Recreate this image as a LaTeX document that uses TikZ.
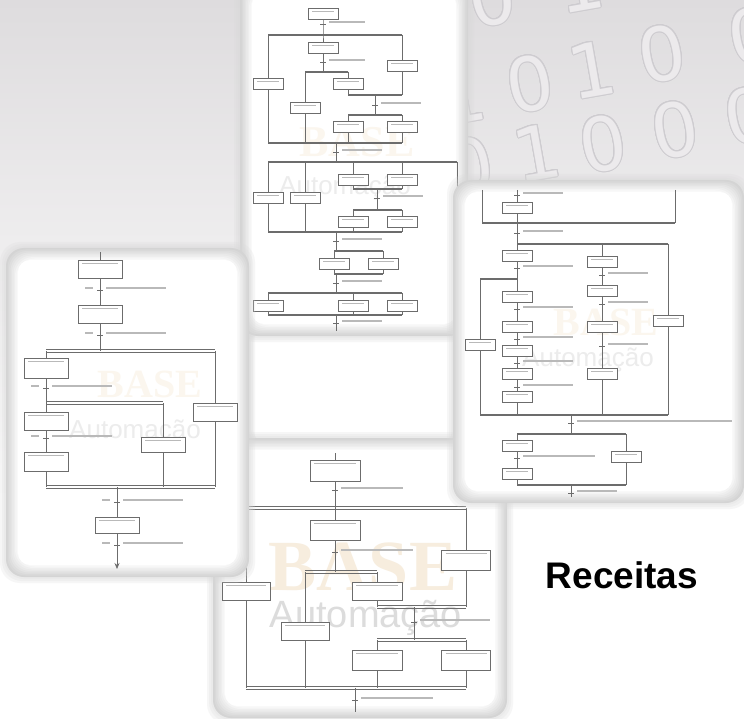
\documentclass[tikz,border=0pt]{standalone}
\usepackage{fontspec}
\usepackage{contour}
\usetikzlibrary{calc,arrows.meta}
\setmainfont{Liberation Sans}
\newfontfamily\headfont{Liberation Sans}
\newfontfamily\digitfont{DejaVu Sans}
\newfontfamily\markfont{Liberation Serif}
\contourlength{1pt}

\definecolor{bgtop}{RGB}{222,220,222}
\definecolor{digitline}{RGB}{206,204,208}
\definecolor{digitfill}{RGB}{236,234,236}
\definecolor{sfcline}{RGB}{108,108,108}
\definecolor{sfctext}{RGB}{185,185,185}
\definecolor{basecol}{RGB}{247,237,222}
\definecolor{autocol}{RGB}{220,220,220}

\tikzset{
  stp/.style={draw=sfcline, fill=white, line width=0.6pt, minimum width=30pt, minimum height=11pt, inner sep=0pt,
    path picture={\draw[sfctext, line width=0.9pt] ([shift={(4pt,-3pt)}]path picture bounding box.north west) -- ([shift={(-4pt,-3pt)}]path picture bounding box.north east);}},
  ln/.style={sfcline, line width=0.7pt},
  bar/.style={sfcline, line width=2pt},
  txt/.style={sfctext, line width=1.3pt},
  digit/.style={rotate=10, text=digitfill, inner sep=0pt, font=\digitfont\fontsize{74}{74}\selectfont},
}

% soft framed panel: x1, y1, x2, y2
\newcommand{\panel}[4]{%
  \foreach \k in {1,2,3}{
    \fill[gray!30, opacity=0.22, rounded corners=20pt] (#1-\k*2,#2-\k*2) rectangle (#3+\k*2,#4+\k*2);
  }
  \foreach \k in {0,...,7}{
    \pgfmathsetmacro\shadeval{34-4.2*\k}
    \fill[gray!\shadeval, rounded corners=18pt] (#1+\k*1.5,#2+\k*1.5) rectangle (#3-\k*1.5,#4-\k*1.5);
  }
  \fill[white, rounded corners=12pt] (#1+12,#2+12) rectangle (#3-12,#4-12);
}

% transition: x, y, label length
\newcommand{\trn}[3]{%
  \draw[ln] (#1-3,#2) -- (#1+3,#2);
  \draw[txt] (#1+6,#2-2) -- ++(#3,0);
}

% double (simultaneous) bar between two points
\newcommand{\dbl}[2]{%
  \draw[ln] ($(#1)+(0,-1.3)$) -- ($(#2)+(0,-1.3)$);
  \draw[ln] ($(#1)+(0,1.3)$) -- ($(#2)+(0,1.3)$);
}

\begin{document}
\begin{tikzpicture}[x=1pt, y=-1pt]
\useasboundingbox (0,0) rectangle (744,719);
\clip (0,0) rectangle (744,719);

% background
\fill[white] (0,0) rectangle (744,719);
\shade[top color=bgtop, bottom color=white] (0,0) rectangle (744,500);

% binary digits
\foreach \d/\x/\y in {0/492/-2, 1/580/-16,
                      1/462/96, 0/530/84, 1/592/70, 0/662/54, 0/752/36,
                      0/470/166, 1/537/153, 0/603/144, 0/675/130, 0/748/116}
  \node[digit] at (\x,\y) {\contour{digitline}{\d}};

% ---------- panel behind the top one
\panel{242}{316}{464}{455}

% ---------- top panel
\panel{240}{-20}{468}{336}
\node[font=\markfont\bfseries\fontsize{44}{44}\selectfont, text=basecol!50!white] (wbase1) at (357,142) {BASE};
\node[font=\fontsize{26}{26}\selectfont, text=autocol!55!white] (wauto1) at (345,188) {Automação};

\foreach \n/\x/\y in {a0/323/14, a1/323/48, a2/402/66, a3/268/84, a4/348/84, a5/305/108, a6/348/127, a7/402/127,
                      c1/268/198, c2/305/198, c3/353/180, c4/402/180, c5/353/222, c6/402/222,
                      c7/334/264, c8/383/264, d1/268/306, d2/353/306, d3/402/306}
  \node[stp] (\n) at (\x,\y) {};
\foreach \n/\y in {b1/35, b2/72, b3/95, b4/115, b5/143, b6/162, b7/189, b8/210, b9/232, b10/251, b11/274, b12/293, b13/315}
  \coordinate (\n) at (0,\y);

\draw[ln] (a0) -- (a0 |- b1) -- (a1);
\trn{323}{24}{36}
\draw[ln] (a1) -- (a1 |- b2);
\trn{323}{62}{36}
\draw[ln] (a3 |- b1) -- (a3) -- (a3 |- b5);
\draw[ln] (a2 |- b1) -- (a2) -- (a2 |- b3);
\draw[ln] (a5 |- b2) -- (a5) -- (a5 |- b5);
\draw[ln] (a4 |- b2) -- (a4) -- (a4 |- b3);
\draw[ln] (375,95) -- (375,115);
\trn{375}{105}{40}
\draw[ln] (a6 |- b4) -- (a6) -- (a6 |- b5);
\draw[ln] (a7 |- b4) -- (a7) -- (a7 |- b5);
\draw[bar] (a3 |- b1) -- (a2 |- b1);
\draw[bar] (a5 |- b2) -- (a4 |- b2);
\draw[bar] (a4 |- b3) -- (a2 |- b3);
\draw[bar] (a6 |- b4) -- (a7 |- b4);
\draw[bar] (a3 |- b5) -- (a7 |- b5);
\draw[ln] (336,143) -- (336,162);
\trn{336}{152}{40}

\draw[bar] (c1 |- b6) -- (457,162);
\draw[ln] (457,162) -- (457,197);
\draw[ln] (c1 |- b6) -- (c1) -- (c1 |- b9);
\draw[ln] (c2 |- b6) -- (c2) -- (c2 |- b9);
\draw[ln] (c3 |- b6) -- (c3) -- (c3 |- b7);
\draw[ln] (c4 |- b6) -- (c4) -- (c4 |- b7);
\draw[bar] (c3 |- b7) -- (c4 |- b7);
\draw[ln] (377,189) -- (377,210);
\trn{377}{198}{40}
\draw[bar] (c5 |- b8) -- (c6 |- b8);
\draw[ln] (c5 |- b8) -- (c5) -- (c5 |- b9);
\draw[ln] (c6 |- b8) -- (c6) -- (c6 |- b9);
\draw[bar] (c1 |- b9) -- (c6 |- b9);
\draw[ln] (336,232) -- (336,251);
\trn{336}{241}{40}
\draw[bar] (c7 |- b10) -- (c8 |- b10);
\draw[ln] (c7 |- b10) -- (c7) -- (c7 |- b11);
\draw[ln] (c8 |- b10) -- (c8) -- (c8 |- b11);
\draw[bar] (c7 |- b11) -- (c8 |- b11);
\draw[ln] (336,274) -- (336,293);
\trn{336}{283}{40}
\draw[bar] (d1 |- b12) -- (d3 |- b12);
\draw[ln] (d1 |- b12) -- (d1) -- (d1 |- b13);
\draw[ln] (d2 |- b12) -- (d2) -- (d2 |- b13);
\draw[ln] (d3 |- b12) -- (d3) -- (d3 |- b13);
\draw[bar] (d1 |- b13) -- (d3 |- b13);
\draw[ln] (336,315) -- (336,331);
\trn{336}{323}{40}

% ---------- bottom panel
\panel{213}{438}{507}{718}
\node[font=\markfont\bfseries\fontsize{72}{72}\selectfont, text=basecol] (wbase2) at (363,567) {BASE};
\node[font=\fontsize{38}{38}\selectfont, text=autocol] (wauto2) at (366,618) {Automação};

\foreach \n/\x/\y/\w/\h in {B0/335/471/50/21, B1/335/530/50/20, B2/246/591/48/18, B3/305/631/48/18,
                            B4/377/591/50/18, B5/466/560/49/20, B6/377/660/50/20, B7/466/660/49/20}
  \node[stp, minimum width=\w, minimum height=\h] (\n) at (\x,\y) {};
\foreach \n/\y in {g1/508, g2/572, g3/607, g4/640, g5/688}
  \coordinate (\n) at (0,\y);

\draw[ln] (335,453) -- (B0) -- (B0 |- g1);
\trn{335}{490}{62}
\dbl{B2 |- g1}{B5 |- g1}
\draw[ln] (B1 |- g1) -- (B1) -- (B1 |- g2);
\trn{335}{552}{72}
\dbl{B3 |- g2}{B4 |- g2}
\draw[ln] (B2 |- g1) -- (B2) -- (B2 |- g5);
\draw[ln] (B3 |- g2) -- (B3) -- (B3 |- g5);
\draw[ln] (B4 |- g2) -- (B4) -- (B4 |- g3);
\draw[ln] (B5 |- g1) -- (B5) -- (B5 |- g3);
\dbl{B4 |- g3}{B5 |- g3}
\draw[ln] (414,607) -- (414,640);
\trn{414}{622}{70}
\dbl{B6 |- g4}{B7 |- g4}
\draw[ln] (B6 |- g4) -- (B6) -- (B6 |- g5);
\draw[ln] (B7 |- g4) -- (B7) -- (B7 |- g5);
\dbl{B2 |- g5}{B7 |- g5}
\draw[ln] (355,688) -- (355,712);
\trn{355}{700}{72}

% ---------- left panel
\panel{6}{248}{249}{577}
\node[font=\markfont\bfseries\fontsize{40}{40}\selectfont, text=basecol!50!white] (wbase3) at (150,384) {BASE};
\node[font=\fontsize{26}{26}\selectfont, text=autocol!55!white] (wauto3) at (135,432) {Automação};

\foreach \n/\x/\y/\h in {L0/100/269/18, L1/100/314/18, L2/46/368/20, L3/46/421/18, L4/46/462/19,
                         L5/163/445/15, L6/215/412/18, L7/117/525/16}
  \node[stp, minimum width=44, minimum height=\h] (\n) at (\x,\y) {};
\foreach \n/\y in {e1/351, e2/403, e3/487}
  \coordinate (\n) at (0,\y);
\coordinate (ltop) at (100,252);
\coordinate (lend) at (117,569);

\draw[ln] (ltop) -- (L0);
\draw[ln] (L0) -- (L1);
\draw[ln] (L1) -- (L1 |- e1);
\dbl{L2 |- e1}{L6 |- e1}
\draw[ln] (L2 |- e1) -- (L2) -- (L2 |- e2);
\dbl{L3 |- e2}{L5 |- e2}
\draw[ln] (L3 |- e2) -- (L3) -- (L4) -- (L4 |- e3);
\draw[ln] (L5 |- e2) -- (L5) -- (L5 |- e3);
\draw[ln] (L6 |- e1) -- (L6) -- (L6 |- e3);
\dbl{L4 |- e3}{L6 |- e3}
\draw[ln] (L7 |- e3) -- (L7);
\draw[ln, -{Stealth[length=6pt, width=5pt]}] (L7) -- (lend);
\foreach \x/\y in {100/290, 100/335, 46/388, 46/438, 117/502, 117/545}{
  \trn{\x}{\y}{60}
  \draw[txt] (\x-15,\y-2) -- (\x-7,\y-2);
}

% ---------- right panel
\panel{453}{180}{744}{503}
\node[font=\markfont\bfseries\fontsize{40}{40}\selectfont, text=basecol!50!white] (wbase4) at (606,322) {BASE};
\node[font=\fontsize{26}{26}\selectfont, text=autocol!55!white] (wauto4) at (588,360) {Automação};

\foreach \n/\x/\y in {R0/517/208, R1/517/256, R2/517/297, R3/517/327, R4/517/351, R5/517/374, R6/517/397,
                      R9/480/345, M1/602/262, M2/602/291, M3/602/327, M4/602/374, R7/668/321,
                      N1/517/446, N2/517/474, N3/626/457}
  \node[stp] (\n) at (\x,\y) {};
\foreach \n/\y in {f0/223, f1/244, f2/279, f3/415, f4/434, f5/485}
  \coordinate (\n) at (0,\y);
\coordinate (rtop) at (517,190);
\coordinate (rend) at (571,497);

\draw[ln] (482,190) -- (482,223);
\draw[ln] (675,190) -- (675,223);
\draw[bar] (482,223) -- (675,223);
\draw[ln] (rtop) -- (R0) -- (R0 |- f0);
\trn{517}{195}{40}
\draw[ln] (R0 |- f0) -- (R0 |- f1);
\trn{517}{233}{40}
\draw[bar] (R1 |- f1) -- (R7 |- f1);
\draw[ln] (R1 |- f1) -- (R1) -- (R2) -- (R3) -- (R4) -- (R5) -- (R6) -- (R6 |- f3);
\draw[bar] (R9 |- f2) -- (R1 |- f2);
\draw[ln] (R9 |- f2) -- (R9) -- (R9 |- f3);
\draw[ln] (M1 |- f1) -- (M1) -- (M2) -- (M3) -- (M4) -- (M4 |- f3);
\draw[ln] (R7 |- f1) -- (R7) -- (R7 |- f3);
\draw[bar] (R9 |- f3) -- (R7 |- f3);
\foreach \y in {268, 309, 339, 363, 387}
  \trn{517}{\y}{50}
\foreach \y in {275, 304, 346}
  \trn{602}{\y}{40}
\draw[ln] (571,415) -- (571,434);
\trn{571}{423}{155}
\draw[bar] (N1 |- f4) -- (N3 |- f4);
\draw[ln] (N1 |- f4) -- (N1) -- (N2) -- (N2 |- f5);
\trn{517}{458}{72}
\draw[ln] (N3 |- f4) -- (N3) -- (N3 |- f5);
\draw[bar] (N1 |- f5) -- (N3 |- f5);
\draw[ln] (571,485) -- (rend);
\trn{571}{493}{40}

% title
\node[font=\headfont\bfseries\fontsize{37}{37}\selectfont] (title) at (622,575) {Receitas};
\end{tikzpicture}
\end{document}
